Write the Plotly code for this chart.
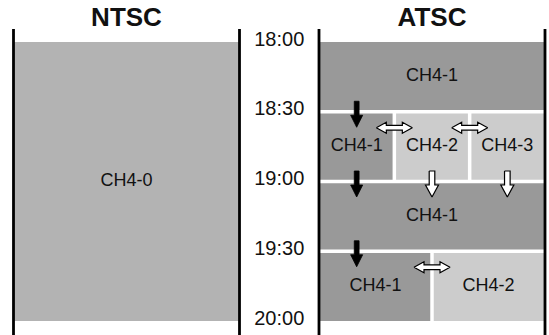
import plotly.graph_objects as go

# clock times (hours) and their labels
time_ticks = [18.0, 18.5, 19.0, 19.5, 20.0]
time_labels = ["18:00", "18:30", "19:00", "19:30", "20:00"]

column_titles = ["NTSC", "ATSC"]

# NTSC: one analog channel for the whole evening
ntsc_channels = ["CH4-0"]
ntsc_start = [18.0]
ntsc_end = [20.0]

# ATSC: each half-hour row is split among the listed channels
atsc_start = [18.0, 18.5, 19.0, 19.5]
atsc_end = [18.5, 19.0, 19.5, 20.0]
atsc_channels = [["CH4-1"], ["CH4-1", "CH4-2", "CH4-3"], ["CH4-1"], ["CH4-1", "CH4-2"]]

# arrows: main channel carries on (black), sub-channels fold back (white)
main_arrow_times = [18.5, 19.0, 19.5]
main_arrow_lanes = [0, 0, 0]
end_arrow_times = [19.0, 19.0]
end_arrow_lanes = [1, 2]

# ---- geometry / style ----
W, H = 549, 335
XU = 226.0     # px per column width
YU = 139.5     # px per hour
X0 = 13.5      # left edge of first column, px
Y0 = 42.0      # y px of 18:00
COL_X = [0.0, (319 - X0) / XU]   # column offsets in column units
GAP = 3.5      # white gap between cells, px
DARK, LIGHT, NTSC_GRAY = "#999999", "#cccccc", "#b3b3b3"
FONT = "Liberation Sans, Arial, Helvetica, sans-serif"

dx = lambda p: p / XU
dy = lambda p: p / YU

fig = go.Figure()
shapes = []


def add_cell(x0, x1, t0, t1, color, gl, gr, gt, gb):
    shapes.append(dict(type="rect", xref="x", yref="y", layer="below",
                       x0=x0 + dx(gl), x1=x1 - dx(gr), y0=t0 + dy(gt), y1=t1 - dy(gb),
                       fillcolor=color, line=dict(width=0)))


labels_x, labels_y, labels_t = [], [], []

# NTSC column
for ch, t0, t1 in zip(ntsc_channels, ntsc_start, ntsc_end):
    add_cell(COL_X[0], COL_X[0] + 1, t0, t1, NTSC_GRAY, 0, 0, 0, 0)
    labels_x.append(COL_X[0] + 0.5)
    labels_y.append((t0 + t1) / 2)
    labels_t.append(ch)

# ATSC column
day_start, day_end = min(atsc_start), max(atsc_end)
swap_x, swap_y = [], []
for t0, t1, chans in zip(atsc_start, atsc_end, atsc_channels):
    n = len(chans)
    for i, ch in enumerate(chans):
        x0 = COL_X[1] + i / n
        x1 = COL_X[1] + (i + 1) / n
        add_cell(x0, x1, t0, t1, DARK if ch == "CH4-1" else LIGHT,
                 GAP / 2 if i > 0 else 0, GAP / 2 if i < n - 1 else 0,
                 GAP / 2 if t0 > day_start else 0, GAP / 2 if t1 < day_end else 0)
        labels_x.append((x0 + x1) / 2)
        labels_y.append((t0 + t1) / 2)
        labels_t.append(ch)
        if i > 0:
            swap_x.append(x0)
            swap_y.append(t0)

# cell labels
fig.add_trace(go.Scatter(x=labels_x, y=labels_y, text=labels_t, mode="text",
                         textfont=dict(family=FONT, size=18, color="#111111"),
                         hoverinfo="skip", showlegend=False))

# time labels between the columns
mid_x = (COL_X[0] + 1 + COL_X[1]) / 2
fig.add_trace(go.Scatter(x=[mid_x] * len(time_ticks), y=[t - dy(1.5) for t in time_ticks],
                         text=time_labels, mode="text",
                         textfont=dict(family=FONT, size=20, color="#111111"),
                         hoverinfo="skip", showlegend=False))

# column titles
fig.add_trace(go.Scatter(x=[c + 0.5 for c in COL_X], y=[day_start - dy(23)] * 2,
                         text=["<b>%s</b>" % t for t in column_titles], mode="text",
                         textfont=dict(family=FONT, size=26, color="#111111"),
                         hoverinfo="skip", showlegend=False))


def poly(cx, cy, pts, fill, line_w):
    xs = [cx + dx(px) for px, py in pts] + [cx + dx(pts[0][0])]
    ys = [cy + dy(py) for px, py in pts] + [cy + dy(pts[0][1])]
    fig.add_trace(go.Scatter(x=xs, y=ys, mode="lines", fill="toself", fillcolor=fill,
                             line=dict(color="black", width=line_w),
                             hoverinfo="skip", showlegend=False))


def down_arrow(L=26, hl=12, hw=6, sw=2.4):
    # tip at (0, 0), pointing down (y grows downward)
    return [(-sw, -L), (sw, -L), (sw, -hl), (hw, -hl), (0, 0), (-hw, -hl), (-sw, -hl)]


def double_arrow(half=18, hl=10, hh=5.5, sh=2.3):
    return [(-half, 0), (-half + hl, -hh), (-half + hl, -sh), (half - hl, -sh),
            (half - hl, -hh), (half, 0), (half - hl, hh), (half - hl, sh),
            (-half + hl, sh), (-half + hl, hh)]


TIP = 15.5
for t, lane in zip(main_arrow_times, main_arrow_lanes):
    poly(COL_X[1] + (lane + 0.5) / 3, t + dy(TIP), down_arrow(), "black", 0.8)
for t, lane in zip(end_arrow_times, end_arrow_lanes):
    poly(COL_X[1] + (lane + 0.5) / 3, t + dy(TIP), down_arrow(sw=2.8, hw=6.5), "white", 1.2)
for x, t in zip(swap_x, swap_y):
    poly(x, t + dy(16), double_arrow(), "white", 1.2)

# black column borders
for c in COL_X:
    for e in (c, c + 1):
        shapes.append(dict(type="line", xref="x", yref="y", x0=e, x1=e,
                           y0=day_start - dy(13), y1=day_end + dy(20),
                           line=dict(color="black", width=2.8)))

fig.update_layout(
    width=W, height=H, margin=dict(l=0, r=0, t=0, b=0),
    paper_bgcolor="white", plot_bgcolor="white", shapes=shapes,
    xaxis=dict(range=[-dx(X0), dx(W - X0)], visible=False, fixedrange=True),
    yaxis=dict(range=[day_end + dy(H - Y0 - 2 * YU), day_start - dy(Y0)],
               visible=False, fixedrange=True),
)

fig.write_html("out.html", config={"displayModeBar": False},
               post_script="document.body.style.margin='0';")
